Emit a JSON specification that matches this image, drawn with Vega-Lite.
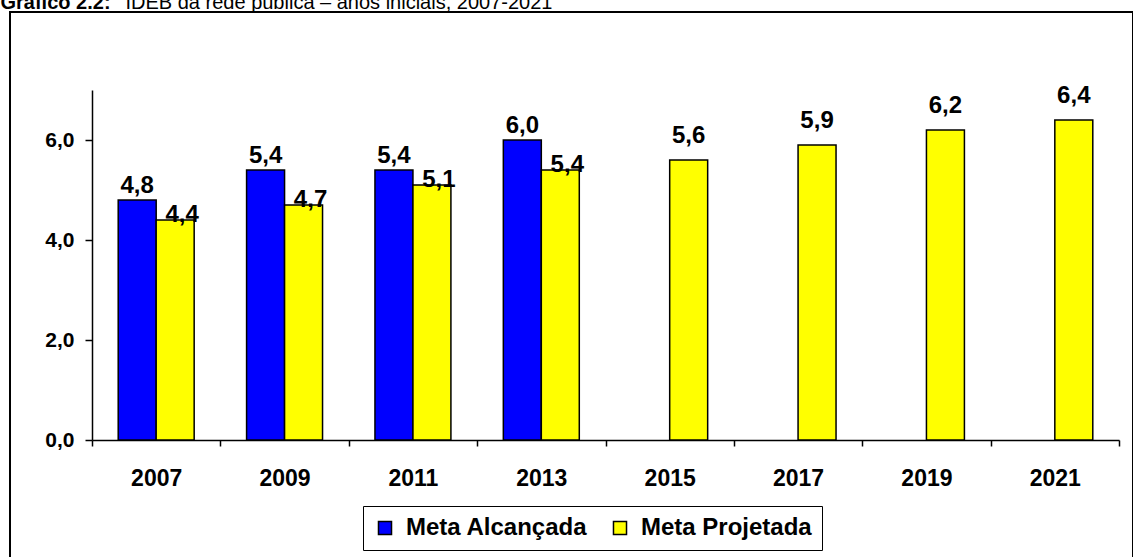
{
  "$schema": "https://vega.github.io/schema/vega-lite/v6.json",
  "autosize": {"type": "none"},
  "padding": {"left": 10, "top": 12, "right": 0, "bottom": 0},
  "width": 1123,
  "height": 550,
  "background": "white",
  "config": {
    "view": {"stroke": "black", "strokeWidth": 2},
    "font": "Liberation Sans",
    "locale": {"number": {"decimal": ",", "thousands": ".", "grouping": [3], "currency": ["R$", ""]}}
  },
  "data": {
    "values": [
      {"ano": "2007", "serie": "Meta Alcançada", "valor": 4.8},
      {"ano": "2007", "serie": "Meta Projetada", "valor": 4.4},
      {"ano": "2009", "serie": "Meta Alcançada", "valor": 5.4},
      {"ano": "2009", "serie": "Meta Projetada", "valor": 4.7},
      {"ano": "2011", "serie": "Meta Alcançada", "valor": 5.4},
      {"ano": "2011", "serie": "Meta Projetada", "valor": 5.1},
      {"ano": "2013", "serie": "Meta Alcançada", "valor": 6.0},
      {"ano": "2013", "serie": "Meta Projetada", "valor": 5.4},
      {"ano": "2015", "serie": "Meta Projetada", "valor": 5.6},
      {"ano": "2017", "serie": "Meta Projetada", "valor": 5.9},
      {"ano": "2019", "serie": "Meta Projetada", "valor": 6.2},
      {"ano": "2021", "serie": "Meta Projetada", "valor": 6.4}
    ]
  },
  "encoding": {
    "x": {
      "field": "ano", "type": "nominal",
      "scale": {"range": [82, 1109], "paddingInner": 0, "paddingOuter": 0},
      "axis": {
        "orient": "bottom", "offset": -122, "labelAngle": 0,
        "tickBand": "extent", "tickSize": 6, "tickColor": "black", "tickWidth": 1.5,
        "domainColor": "black", "domainWidth": 1.5,
        "labelFontSize": 23, "labelFontWeight": "bold", "labelColor": "black", "labelPadding": 21,
        "title": "IDEB da rede pública – anos iniciais, 2007-2021",
        "titleX": 115, "titleY": -431.5, "titleAlign": "left", "titleAnchor": null, "titleBaseline": "alphabetic",
        "titleFontSize": 20, "titleFontWeight": "normal", "titleColor": "black"
      }
    },
    "xOffset": {
      "field": "serie", "type": "nominal",
      "scale": {"domain": ["Meta Alcançada", "Meta Projetada"], "paddingInner": 0, "paddingOuter": 0.69}
    },
    "y": {
      "field": "valor", "type": "quantitative",
      "scale": {"domain": [0, 7], "range": [428, 78], "nice": false, "zero": true},
      "axis": {
        "offset": -82, "values": [0, 2, 4, 6], "grid": false, "format": ".1f",
        "tickSize": 7, "tickColor": "black", "tickWidth": 1.5,
        "domainColor": "black", "domainWidth": 1.5,
        "labelFontSize": 21, "labelFontWeight": "bold", "labelColor": "black", "labelPadding": 11,
        "title": "Gráfico 2.2:",
        "titleX": -92, "titleY": -3.5, "titleAngle": 0, "titleAlign": "left", "titleAnchor": null, "titleBaseline": "alphabetic",
        "titleFontSize": 20, "titleFontWeight": "bold", "titleColor": "black"
      }
    }
  },
  "layer": [
    {
      "mark": {"type": "bar", "stroke": "black", "strokeWidth": 1.5},
      "encoding": {
        "color": {
          "field": "serie", "type": "nominal",
          "scale": {"domain": ["Meta Alcançada", "Meta Projetada"], "range": ["#0000FF", "#FFFF00"]},
          "legend": {
            "title": null, "orient": "none", "legendX": 353, "legendY": 494,
            "direction": "horizontal", "strokeColor": "black", "padding": 10,
            "symbolType": "square", "symbolSize": 170, "symbolStrokeColor": "black", "symbolStrokeWidth": 1.5,
            "symbolOpacity": 1,
            "labelFontSize": 24, "labelFontWeight": "bold", "labelColor": "black", "labelOffset": 9,
            "columnPadding": 20, "labelLimit": 400
          }
        }
      }
    },
    {
      "transform": [{"filter": "datum.serie == 'Meta Alcançada'"}],
      "mark": {"type": "text", "baseline": "alphabetic", "dy": -7, "fontSize": 24, "fontWeight": "bold", "color": "black"},
      "encoding": {"text": {"field": "valor", "type": "quantitative", "format": ".1f"}}
    },
    {
      "transform": [{"filter": "datum.serie == 'Meta Projetada' && toNumber(datum.ano) <= 2013"}],
      "mark": {"type": "text", "baseline": "alphabetic", "dy": 2, "dx": 7, "fontSize": 24, "fontWeight": "bold", "color": "black"},
      "encoding": {"text": {"field": "valor", "type": "quantitative", "format": ".1f"}}
    },
    {
      "transform": [{"filter": "datum.serie == 'Meta Projetada' && toNumber(datum.ano) > 2013"}],
      "mark": {"type": "text", "baseline": "alphabetic", "dy": -17, "fontSize": 24, "fontWeight": "bold", "color": "black"},
      "encoding": {"text": {"field": "valor", "type": "quantitative", "format": ".1f"}}
    }
  ]
}
